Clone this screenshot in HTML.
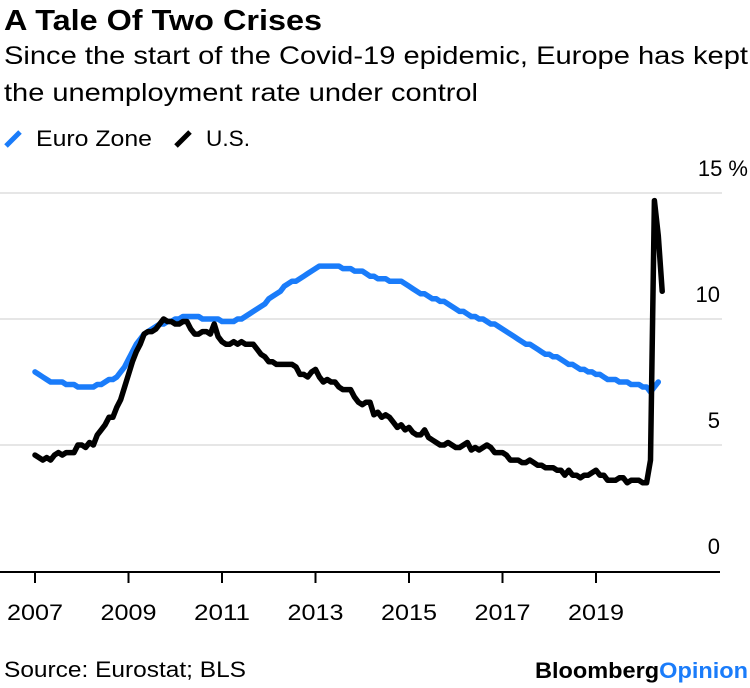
<!DOCTYPE html>
<html><head><meta charset="utf-8">
<style>
body{margin:0;background:#fff;width:750px;height:688px;overflow:hidden;font-family:"Liberation Sans",sans-serif;}
svg{position:absolute;left:0;top:0}
</style></head>
<body>
<svg width="750" height="688">
<text x="4" y="30" font-size="29" font-weight="bold" textLength="318" lengthAdjust="spacingAndGlyphs" fill="#000">A Tale Of Two Crises</text>
<text x="4" y="64" font-size="25" textLength="744" lengthAdjust="spacingAndGlyphs" fill="#000">Since the start of the Covid-19 epidemic, Europe has kept</text>
<text x="4" y="101" font-size="25" textLength="474" lengthAdjust="spacingAndGlyphs" fill="#000">the unemployment rate under control</text>
<g>
<line x1="6" y1="146" x2="20" y2="132" stroke="#1a7cfa" stroke-width="5"/>
<text x="36" y="146" font-size="22" textLength="116" lengthAdjust="spacingAndGlyphs">Euro Zone</text></g>
<g>
<line x1="176" y1="146" x2="190" y2="132" stroke="#000" stroke-width="5"/>
<text x="206" y="146" font-size="22" textLength="44" lengthAdjust="spacingAndGlyphs">U.S.</text></g>
<g id="grid"></g><g id="ylabels"></g><g id="xaxis"></g><g id="series"></g>
<text x="4" y="677" font-size="22" textLength="242" lengthAdjust="spacingAndGlyphs">Source: Eurostat; BLS</text>
<text x="535" y="678" font-size="22" font-weight="bold" textLength="213" lengthAdjust="spacingAndGlyphs">Bloomberg<tspan fill="#1a7cfa">Opinion</tspan></text>
</svg>
<script>
const yTicks=[0,5,10,15];
const yTickLabels=["0","5","10","15 %"];
const xTickYears=[2007,2009,2011,2013,2015,2017,2019];
const us=[4.6,4.5,4.4,4.5,4.4,4.6,4.7,4.6,4.7,4.7,4.7,5.0,
5.0,4.9,5.1,5.0,5.4,5.6,5.8,6.1,6.1,6.5,6.8,7.3,
7.8,8.3,8.7,9.0,9.4,9.5,9.5,9.6,9.8,10.0,9.9,9.9,
9.8,9.8,9.9,9.9,9.6,9.4,9.4,9.5,9.5,9.4,9.8,9.3,
9.1,9.0,9.0,9.1,9.0,9.1,9.0,9.0,9.0,8.8,8.6,8.5,
8.3,8.3,8.2,8.2,8.2,8.2,8.2,8.1,7.8,7.8,7.7,7.9,
8.0,7.7,7.5,7.6,7.5,7.5,7.3,7.2,7.2,7.2,6.9,6.7,
6.6,6.7,6.7,6.2,6.3,6.1,6.2,6.1,5.9,5.7,5.8,5.6,
5.7,5.5,5.4,5.4,5.6,5.3,5.2,5.1,5.0,5.0,5.1,5.0,
4.9,4.9,5.0,5.1,4.8,4.9,4.8,4.9,5.0,4.9,4.7,4.7,
4.7,4.6,4.4,4.4,4.4,4.3,4.3,4.4,4.3,4.2,4.2,4.1,
4.1,4.1,4.0,4.0,3.8,4.0,3.8,3.8,3.7,3.8,3.8,3.9,
4.0,3.8,3.8,3.6,3.6,3.6,3.7,3.7,3.5,3.6,3.6,3.6,
3.5,3.5,4.4,14.7,13.3,11.1];
const euro=[7.9,7.8,7.7,7.6,7.5,7.5,7.5,7.5,7.4,7.4,7.4,7.3,
7.3,7.3,7.3,7.3,7.4,7.4,7.5,7.6,7.6,7.7,7.9,8.1,
8.4,8.7,9.0,9.2,9.4,9.5,9.6,9.7,9.8,9.8,9.9,9.9,
10.0,10.0,10.1,10.1,10.1,10.1,10.1,10.0,10.0,10.0,10.0,10.0,
9.9,9.9,9.9,9.9,10.0,10.0,10.1,10.2,10.3,10.4,10.5,10.6,
10.8,10.9,11.0,11.1,11.3,11.4,11.5,11.5,11.6,11.7,11.8,11.9,
12.0,12.1,12.1,12.1,12.1,12.1,12.1,12.0,12.0,12.0,11.9,11.9,
11.9,11.8,11.7,11.7,11.6,11.6,11.6,11.5,11.5,11.5,11.5,11.4,
11.3,11.2,11.1,11.0,11.0,10.9,10.8,10.8,10.7,10.7,10.6,10.5,
10.4,10.3,10.3,10.2,10.1,10.1,10.0,10.0,9.9,9.8,9.8,9.7,
9.6,9.5,9.4,9.3,9.2,9.1,9.0,9.0,8.9,8.8,8.7,8.6,
8.6,8.5,8.5,8.4,8.3,8.2,8.2,8.1,8.0,8.0,7.9,7.9,
7.8,7.8,7.7,7.6,7.6,7.6,7.5,7.5,7.5,7.4,7.4,7.4,
7.3,7.3,7.1,7.3,7.5];
const NS="http://www.w3.org/2000/svg";
function xm(i){return 35+i*(46.75/12);}
function xy(yr){return 35+(yr-2007)*46.75;}
function ys(v){return 571-v*25.2;}
function mk(t,a,p){const e=document.createElementNS(NS,t);for(const k in a)e.setAttribute(k,a[k]);p.appendChild(e);return e;}
const grid=document.getElementById('grid'),yl=document.getElementById('ylabels'),xa=document.getElementById('xaxis'),se=document.getElementById('series');
yTicks.forEach((v,i)=>{
 if(v>0){const g=mk('line',{x1:0,x2:722,y1:ys(v),y2:ys(v),stroke:'#e6e6e6','stroke-width':2},grid);
 
 }
 const t=mk('text',{x:v===15?748:720,y:ys(v)-17,'font-size':22,'text-anchor':'end'},yl);
 t.textContent=yTickLabels[i];
 
 
});
const ax=mk('line',{x1:0,x2:720,y1:572,y2:572,stroke:'#000','stroke-width':2},xa);


xTickYears.forEach(yr=>{
 const x=xy(yr);
 const tk=mk('line',{x1:x,x2:x,y1:572,y2:583,stroke:'#000','stroke-width':2},xa);
 
 
 const t=mk('text',{x:x-28,y:620,'font-size':22,textLength:56,lengthAdjust:'spacingAndGlyphs'},xa);
 t.textContent=yr;
 
 
});
function line(d,c,name){
 const p=mk('polyline',{points:d.map((v,i)=>xm(i).toFixed(1)+','+ys(v).toFixed(1)).join(' '),fill:'none',stroke:c,'stroke-width':5.5,'stroke-linejoin':'round','stroke-linecap':'round'},se);
 
 
}
line(euro,'#1a7cfa','euro-zone-line');
line(us,'#000','us-line');
</script>
</body></html>
